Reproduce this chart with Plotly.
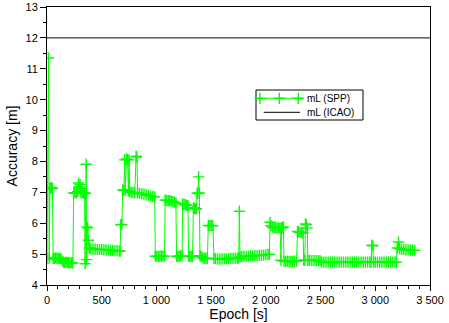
import plotly.graph_objects as go

# Horizontal accuracy of the SPP solution over the session (epoch in seconds)
epoch_s = [
    0, 14, 20, 26, 34, 42, 50, 56, 66, 78, 90, 102, 114, 126, 138, 150, 162, 174, 186, 198,
    210, 222, 236, 244, 256, 268, 280, 288, 294, 302, 310, 322, 334, 344, 348, 354, 358, 362,
    366, 372, 378, 386, 400, 420, 440, 460, 480, 500, 520, 540, 560, 580, 600, 620, 640, 660,
    668, 674, 684, 692, 702, 710, 716, 726, 736, 744, 750, 756, 770, 786, 802, 814, 822, 828,
    846, 866, 886, 906, 926, 946, 966, 984, 990, 1004, 1018, 1032, 1046, 1060, 1074, 1080,
    1094, 1108, 1122, 1136, 1150, 1164, 1178, 1184, 1196, 1208, 1220, 1234, 1240, 1252, 1264,
    1276, 1288, 1294, 1306, 1318, 1330, 1338, 1348, 1358, 1366, 1372, 1378, 1386, 1392, 1398,
    1410, 1424, 1438, 1452, 1466, 1474, 1488, 1502, 1516, 1526, 1540, 1560, 1580, 1600, 1620,
    1640, 1660, 1680, 1700, 1720, 1740, 1752, 1758, 1764, 1780, 1800, 1820, 1840, 1860, 1880,
    1900, 1920, 1940, 1960, 1980, 2000, 2020, 2032, 2038, 2046, 2060, 2074, 2088, 2102, 2116,
    2130, 2138, 2144, 2152, 2160, 2166, 2180, 2196, 2212, 2228, 2244, 2260, 2280, 2290, 2300,
    2312, 2326, 2340, 2346, 2356, 2362, 2370, 2378, 2384, 2400, 2420, 2440, 2460, 2480, 2496,
    2510, 2530, 2550, 2570, 2590, 2610, 2630, 2650, 2670, 2690, 2710, 2730, 2750, 2770, 2790,
    2810, 2830, 2850, 2870, 2890, 2910, 2930, 2950, 2962, 2968, 2978, 2984, 3000, 3020, 3040,
    3060, 3080, 3100, 3120, 3140, 3160, 3180, 3192, 3200, 3212, 3222, 3240, 3260, 3280, 3300,
    3320, 3340, 3360,
]
accuracy_m = [
    4.85, 11.35, 4.85, 7.15, 7.12, 7.16, 7.12, 4.86, 4.85, 4.88, 4.86, 4.87, 4.85, 4.86, 4.80,
    4.74, 4.72, 4.74, 4.72, 4.73, 4.71, 4.72, 4.71, 6.98, 6.99, 6.98, 7.02, 7.30, 7.18, 7.25,
    6.99, 6.98, 6.97, 6.98, 4.69, 6.96, 7.91, 4.82, 5.88, 5.85, 5.45, 5.20, 5.17, 5.16, 5.16,
    5.15, 5.15, 5.15, 5.14, 5.13, 5.13, 5.12, 5.12, 5.11, 5.11, 5.10, 5.09, 5.95, 5.96, 7.08,
    7.06, 8.05, 7.08, 8.08, 8.06, 7.05, 8.05, 7.02, 7.00, 6.99, 6.98, 8.17, 8.14, 6.98, 6.97,
    6.95, 6.94, 6.92, 6.90, 6.89, 6.87, 6.85, 4.93, 4.93, 4.92, 4.93, 4.94, 4.93, 4.93, 6.75,
    6.74, 6.73, 6.73, 6.72, 6.70, 6.68, 6.66, 4.93, 4.92, 4.93, 4.94, 4.93, 6.62, 6.61, 6.60,
    6.58, 6.57, 4.93, 4.92, 4.93, 4.92, 6.50, 6.48, 6.46, 6.47, 6.97, 6.96, 7.50, 6.98, 4.95,
    4.92, 4.88, 4.86, 4.87, 4.86, 5.93, 5.92, 5.93, 5.92, 4.86, 4.85, 4.84, 4.84, 4.85, 4.85,
    4.85, 4.86, 4.86, 4.86, 4.87, 4.87, 4.87, 6.39, 4.90, 4.92, 4.93, 4.93, 4.93, 4.94, 4.94,
    4.95, 4.95, 4.96, 4.96, 4.97, 4.98, 4.99, 4.99, 6.03, 5.92, 5.87, 5.85, 5.86, 5.84, 5.85,
    5.84, 4.80, 5.85, 5.86, 5.88, 4.77, 4.76, 4.77, 4.76, 4.77, 4.76, 4.77, 4.77, 5.73, 5.72,
    5.70, 5.70, 5.68, 4.80, 4.80, 5.98, 5.95, 5.85, 4.80, 4.80, 4.79, 4.80, 4.79, 4.79, 4.78,
    4.74, 4.74, 4.74, 4.74, 4.74, 4.74, 4.74, 4.74, 4.74, 4.74, 4.74, 4.74, 4.74, 4.74, 4.74,
    4.74, 4.74, 4.74, 4.74, 4.74, 4.74, 4.74, 4.74, 4.74, 5.29, 5.27, 4.74, 4.74, 4.74, 4.74,
    4.74, 4.74, 4.74, 4.74, 4.74, 4.74, 4.74, 4.74, 5.20, 5.39, 5.18, 5.15, 5.15, 5.14, 5.14,
    5.13, 5.13, 5.12,
]

# ICAO accuracy limit
icao_epoch = [0, 3500]
icao_limit = [12, 12]

series_names = ["mL (SPP)", "mL (ICAO)"]

x_tick_vals = [0, 500, 1000, 1500, 2000, 2500, 3000, 3500]
x_tick_text = ["0", "500", "1 000", "1 500", "2 000", "2 500", "3 000", "3 500"]
y_tick_vals = [4, 5, 6, 7, 8, 9, 10, 11, 12, 13]

GREEN = "#00ff00"
FONT = "Liberation Sans, Arial, sans-serif"
MARKER = dict(symbol="cross-thin", size=8, color=GREEN, line=dict(color=GREEN, width=1.4))

fig = go.Figure()
fig.add_trace(go.Scatter(
    x=epoch_s, y=accuracy_m, name=series_names[0], mode="lines+markers",
    line=dict(color=GREEN, width=1), marker=MARKER, showlegend=False,
))
fig.add_trace(go.Scatter(
    x=icao_epoch, y=icao_limit, name=series_names[1], mode="lines",
    line=dict(color="black", width=1), showlegend=False,
))

# Legend key drawn in a unit overlay frame so the SPP key can carry three crosses
fig.add_trace(go.Scatter(
    x=[0.5561, 0.6065, 0.6561], y=[0.6716] * 3, mode="markers", marker=MARKER,
    xaxis="x2", yaxis="y2", showlegend=False, hoverinfo="skip",
))

axis_common = dict(
    showline=True, linecolor="black", linewidth=1, mirror=True, automargin=False,
    showgrid=False, zeroline=False, ticks="outside", tickcolor="black",
    tickfont=dict(family=FONT, size=11, color="black"),
)
fig.update_xaxes(
    range=[0, 3500], tickvals=x_tick_vals, ticktext=x_tick_text, ticklen=5,
    minor=dict(dtick=100, ticks="outside", ticklen=3, tickcolor="black"),
    title=dict(text="Epoch [s]", font=dict(family=FONT, size=14, color="black"), standoff=3),
    **axis_common,
)
fig.update_yaxes(
    range=[4, 13], tickvals=y_tick_vals, ticklen=6,
    minor=dict(dtick=0.5, ticks="outside", ticklen=3, tickcolor="black"),
    title=dict(text="Accuracy [m]", font=dict(family=FONT, size=14, color="black"), standoff=4),
    **axis_common,
)

legend_box = dict(type="rect", xref="paper", yref="paper",
                  x0=0.5457, x1=0.8251, y0=0.5935, y1=0.7014,
                  line=dict(color="black", width=1), fillcolor="white", layer="below")
legend_spp = dict(type="line", xref="paper", yref="paper",
                  x0=0.5475, x1=0.6606, y0=0.6716, y1=0.6716,
                  line=dict(color=GREEN, width=1), layer="below")
legend_icao = dict(type="line", xref="paper", yref="paper",
                   x0=0.5658, x1=0.6606, y0=0.6212, y1=0.6212,
                   line=dict(color="black", width=1), layer="below")

fig.update_layout(
    width=449, height=323,
    margin=dict(l=47, r=19, t=7, b=38),
    plot_bgcolor="white", paper_bgcolor="white",
    showlegend=False,
    xaxis2=dict(overlaying="x", range=[0, 1], visible=False, fixedrange=True),
    yaxis2=dict(overlaying="y", range=[0, 1], visible=False, fixedrange=True),
    shapes=[legend_box, legend_spp, legend_icao],
    annotations=[
        dict(xref="paper", yref="paper", x=0.6736, y=y, text=name, showarrow=False,
             xanchor="left", yanchor="middle",
             font=dict(family=FONT, size=10, color="black"))
        for name, y in zip(series_names, [0.6716, 0.6212])
    ],
)

fig.write_html("out.html")
